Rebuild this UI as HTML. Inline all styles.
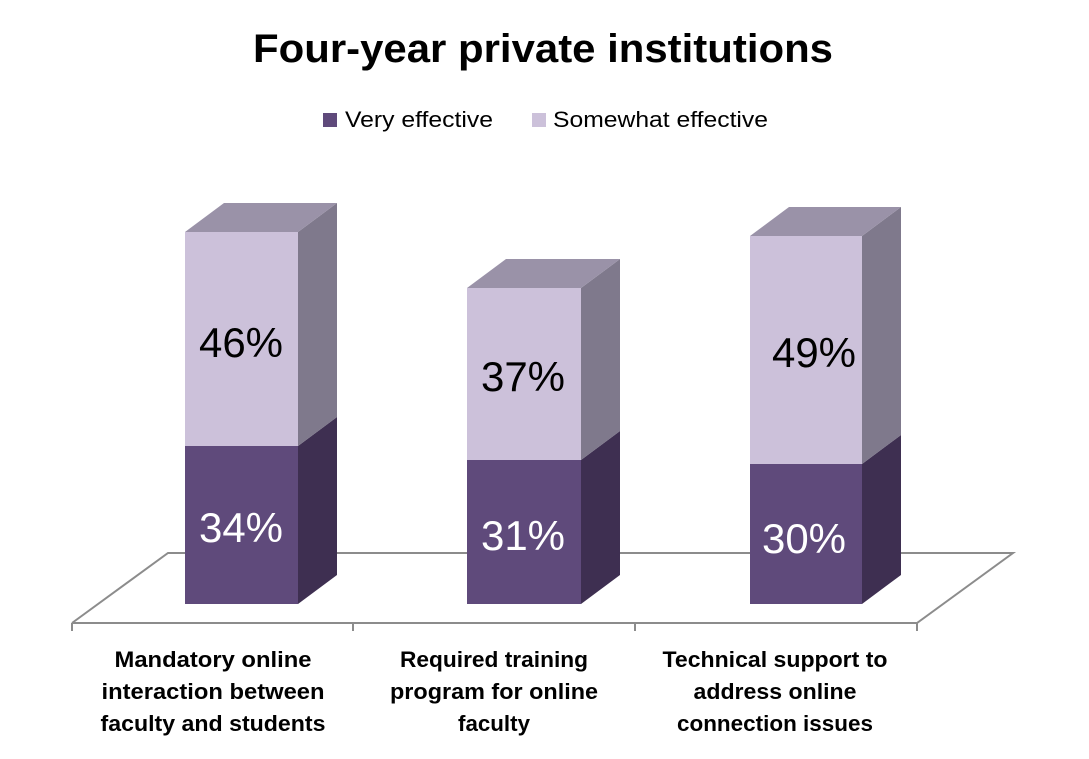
<!DOCTYPE html>
<html><head><meta charset="utf-8"><style>
html,body{margin:0;padding:0;background:#fff;}
svg{display:block;font-family:"Liberation Sans",sans-serif;}
</style></head><body>
<svg width="1089" height="759" viewBox="0 0 1089 759" xmlns="http://www.w3.org/2000/svg">
<rect width="1089" height="759" fill="#fff"/>
<text x="543" y="62" font-size="40" font-weight="bold" text-anchor="middle" textLength="580" lengthAdjust="spacingAndGlyphs">Four-year private institutions</text>
<rect x="323" y="113" width="14" height="14" fill="#5f4a7b"/>
<text x="345" y="127" font-size="22" textLength="148" lengthAdjust="spacingAndGlyphs">Very effective</text>
<rect x="532" y="113" width="14" height="14" fill="#ccc1da"/>
<text x="553" y="127" font-size="22" textLength="215" lengthAdjust="spacingAndGlyphs">Somewhat effective</text>
<g stroke="#8c8c8c" stroke-width="2" fill="none">
<polyline points="72,623 168,553 1013,553 917,623 72,623"/>
<line x1="72" y1="623" x2="72" y2="631"/>
<line x1="353" y1="623" x2="353" y2="631"/>
<line x1="635" y1="623" x2="635" y2="631"/>
<line x1="917" y1="623" x2="917" y2="631"/>
</g>
<g>
<polygon points="298,446 337,417 337,575 298,604" fill="#3e2f51"/>
<polygon points="298,232 337,203 337,417 298,446" fill="#7f798c"/>
<polygon points="185,232 224,203 337,203 298,232" fill="#9a92a8"/>
<rect x="185" y="232" width="113" height="214" fill="#ccc1da"/>
<rect x="185" y="446" width="113" height="158" fill="#5f4a7b"/>
</g>
<g>
<polygon points="581,460 620,431 620,575 581,604" fill="#3e2f51"/>
<polygon points="581,288 620,259 620,431 581,460" fill="#7f798c"/>
<polygon points="467,288 506,259 620,259 581,288" fill="#9a92a8"/>
<rect x="467" y="288" width="114" height="172" fill="#ccc1da"/>
<rect x="467" y="460" width="114" height="144" fill="#5f4a7b"/>
</g>
<g>
<polygon points="862,464 901,435 901,575 862,604" fill="#3e2f51"/>
<polygon points="862,236 901,207 901,435 862,464" fill="#7f798c"/>
<polygon points="750,236 789,207 901,207 862,236" fill="#9a92a8"/>
<rect x="750" y="236" width="112" height="228" fill="#ccc1da"/>
<rect x="750" y="464" width="112" height="140" fill="#5f4a7b"/>
</g>
<g font-size="42" text-anchor="middle">
<text x="241" y="357" fill="#000">46%</text>
<text x="241" y="542" fill="#fff">34%</text>
<text x="523" y="391" fill="#000">37%</text>
<text x="523" y="550" fill="#fff">31%</text>
<text x="814" y="367" fill="#000">49%</text>
<text x="804" y="553" fill="#fff">30%</text>
</g>
<g font-size="22" font-weight="bold" text-anchor="middle">
<text x="213" y="667" textLength="197" lengthAdjust="spacingAndGlyphs">Mandatory online</text>
<text x="213" y="699" textLength="223" lengthAdjust="spacingAndGlyphs">interaction between</text>
<text x="213" y="731" textLength="225" lengthAdjust="spacingAndGlyphs">faculty and students</text>
<text x="494" y="667" textLength="188" lengthAdjust="spacingAndGlyphs">Required training</text>
<text x="494" y="699" textLength="208" lengthAdjust="spacingAndGlyphs">program for online</text>
<text x="494" y="731" textLength="72" lengthAdjust="spacingAndGlyphs">faculty</text>
<text x="775" y="667" textLength="225" lengthAdjust="spacingAndGlyphs">Technical support to</text>
<text x="775" y="699" textLength="163" lengthAdjust="spacingAndGlyphs">address online</text>
<text x="775" y="731" textLength="196" lengthAdjust="spacingAndGlyphs">connection issues</text>
</g>
</svg>
</body></html>
